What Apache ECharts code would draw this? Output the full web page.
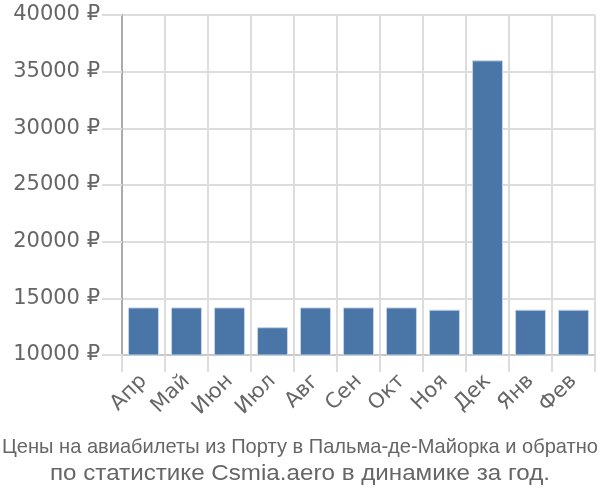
<!DOCTYPE html>
<html>
<head>
<meta charset="utf-8">
<script src="https://cdn.jsdelivr.net/npm/echarts@6/dist/echarts.min.js"></script>
<style>html,body{margin:0;padding:0;background:#fff}#c{width:600px;height:500px}</style>
</head>
<body>
<div id="c"></div>
<script>
var categories = ['Апр','Май','Июн','Июл','Авг','Сен','Окт','Ноя','Дек','Янв','Фев'];
var prices = [14200, 14200, 14200, 12450, 14200, 14200, 14200, 14000, 36000, 14000, 14000];
var yTicks = {min: 10000, max: 40000, interval: 5000};
var titleLines = ['Цены на авиабилеты из Порту в Пальма-де-Майорка и обратно', 'по статистике Csmia.aero в динамике за год.'];

var FONT = 'Liberation Sans, Arial, sans-serif';
var AXFONT = 'DejaVu Sans, sans-serif';
function textWidth(t, size, f) {
  var c = document.createElement('canvas').getContext('2d');
  c.font = size + 'px ' + f;
  return c.measureText(t).width;
}
var sx1 = 596 / textWidth(titleLines[0], 21, FONT);
var sx2 = 500 / textWidth(titleLines[1], 22, FONT);

var chart = echarts.init(document.getElementById('c'), null, {renderer: 'canvas'});
chart.setOption({
  animation: false,
  grid: {left: 122, right: 5, top: 15, bottom: 145, containLabel: false},
  xAxis: {
    type: 'category',
    data: categories,
    boundaryGap: true,
    axisLine: {show: true, lineStyle: {color: '#c8c8c8', width: 2}},
    axisTick: {show: true, length: 17, lineStyle: {color: '#dddddd', width: 2}},
    splitLine: {show: true, lineStyle: {color: '#dddddd', width: 2}},
    axisLabel: {rotate: 45, fontSize: 21, color: '#666666', fontFamily: AXFONT, margin: 23, interval: 0}
  },
  yAxis: {
    type: 'value',
    min: yTicks.min, max: yTicks.max, interval: yTicks.interval,
    axisLine: {show: true, lineStyle: {color: '#aaaaaa', width: 2}},
    axisTick: {show: true, length: 20, lineStyle: {color: '#dddddd', width: 2}},
    splitLine: {show: true, lineStyle: {color: '#dddddd', width: 2}},
    axisLabel: {fontSize: 21, color: '#666666', fontFamily: AXFONT, margin: 22,
      formatter: function (v) { return v + ' ₽'; }}
  },
  series: [{
    type: 'bar',
    data: prices,
    barWidth: '72%',
    itemStyle: {color: '#4a76a7', borderColor: '#c5d5e6', borderWidth: 1}
  }],
  graphic: [
    {type: 'text', x: 300, y: 447, scaleX: sx1,
      style: {text: titleLines[0], fontSize: 21, fill: '#666666', fontFamily: FONT, align: 'center', verticalAlign: 'middle'}},
    {type: 'text', x: 300, y: 474, scaleX: sx2,
      style: {text: titleLines[1], fontSize: 22, fill: '#666666', fontFamily: FONT, align: 'center', verticalAlign: 'middle'}}
  ]
});
</script>
</body>
</html>
